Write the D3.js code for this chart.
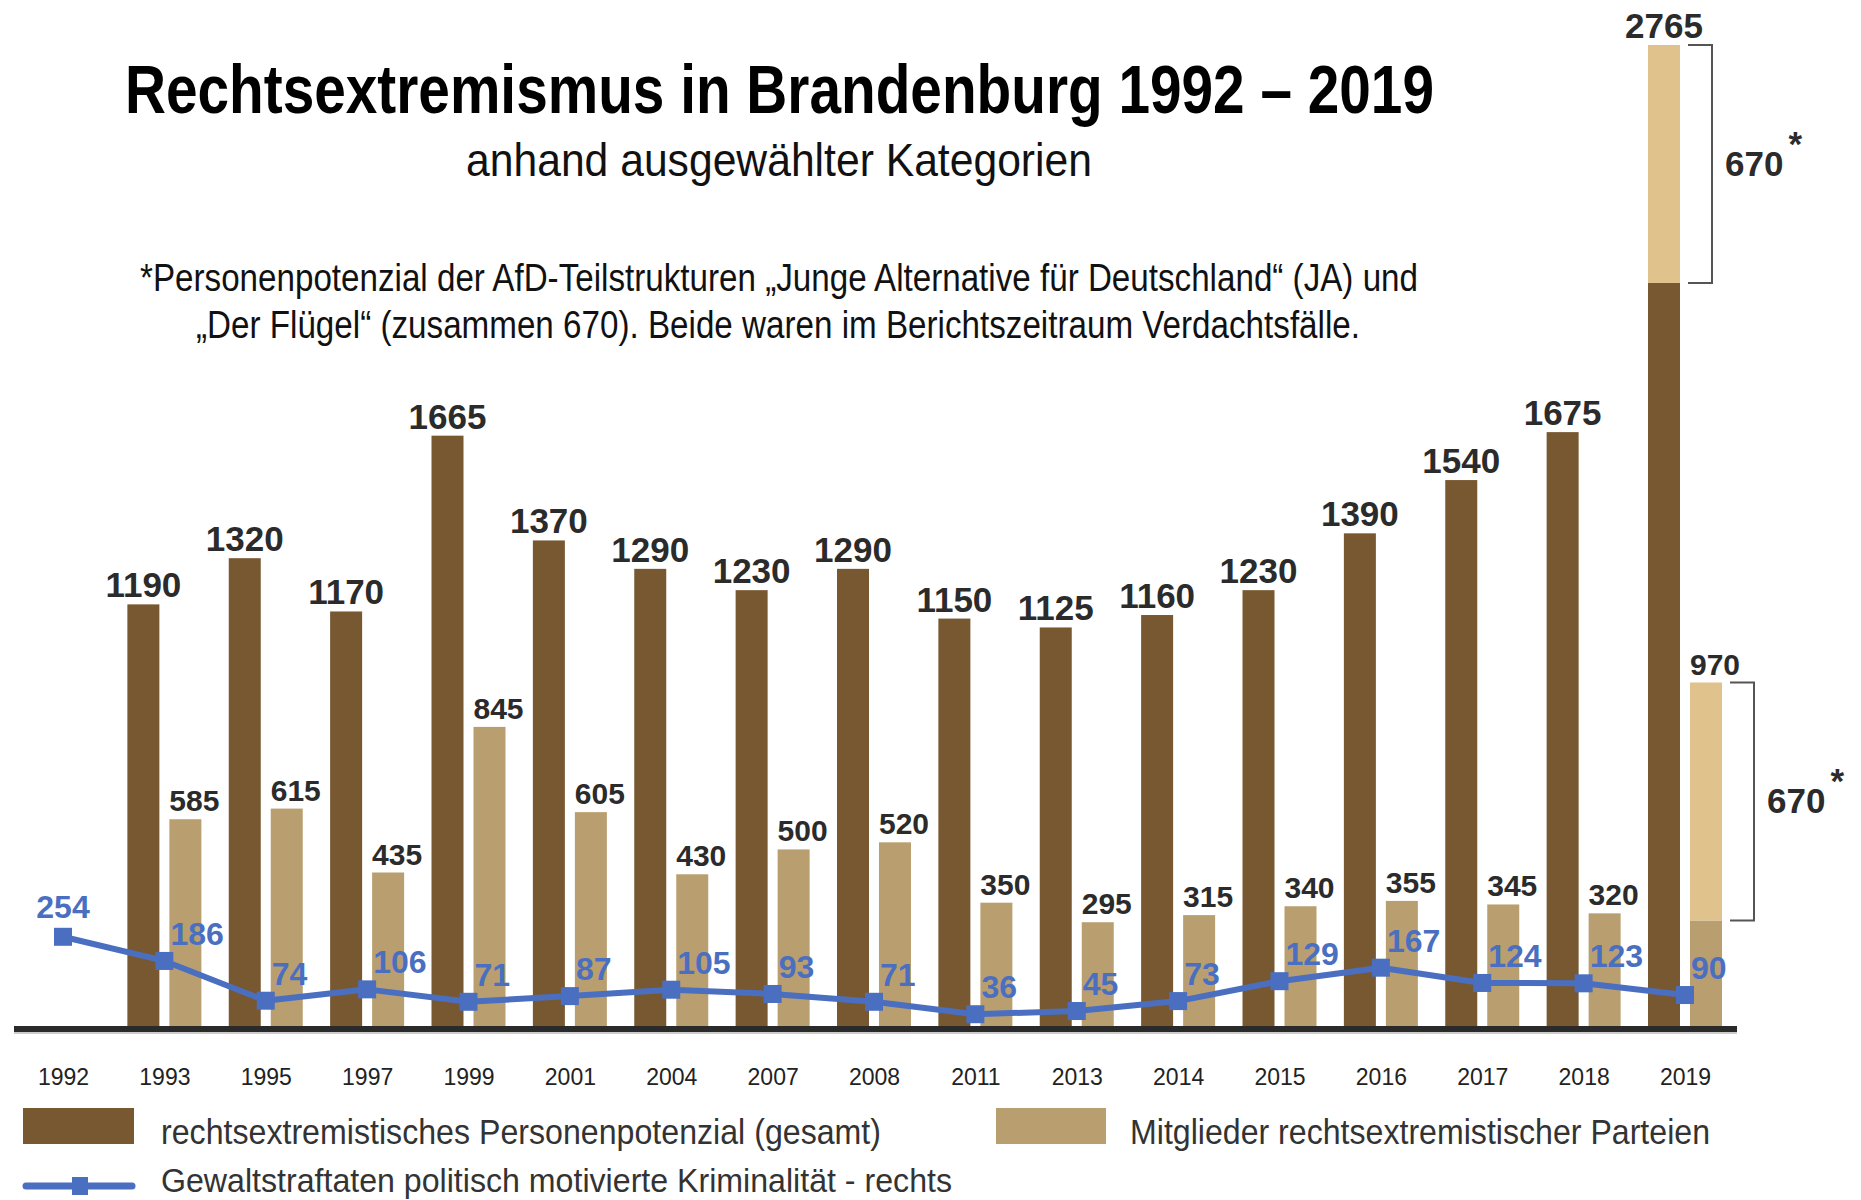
<!DOCTYPE html>
<html>
<head>
<meta charset="utf-8">
<style type="text/css">
    body { margin: 0; background: #fff; }
    text { font-family: "Liberation Sans", Arial, sans-serif; }
    .val { font-weight: bold; fill: #2b2b2b; }
    .blue { font-weight: bold; fill: #4a6fc1; }
    .year { fill: #222; font-size: 23px; }
    .leg { fill: #333; font-size: 35px; }
</style>
</head>
<body>
<svg id="chart"></svg>
<script src="https://d3js.org/d3.v7.min.js"></script>
<script type="text/javascript">
// Werte aus der Grafik
var years    = ["1992","1993","1995","1997","1999","2001","2004","2007","2008","2011","2013","2014","2015","2016","2017","2018","2019"];
var gesamt   = [null,1190,1320,1170,1665,1370,1290,1230,1290,1150,1125,1160,1230,1390,1540,1675,2765];
var parteien = [null,585,615,435,845,605,430,500,520,350,295,315,340,355,345,320,970];
var gewalt   = [254,186,74,106,71,87,105,93,71,36,45,73,129,167,124,123,90];
var afd = 670; // JA + Flügel, nur 2019

var W = 1861, H = 1200;
var brown = "#785831", beige = "#b99f6f", light = "#dfc28c", blue = "#4a6fc1";

var svg = d3.select("#chart").attr("width", W).attr("height", H);

var x = d3.scalePoint().domain(years).range([63, 1685]);
var y = d3.scaleLinear().domain([0, 2765]).range([1027, 45]);

// Titel
function fitText(t, len) {
    return t.attr("textLength", len).attr("lengthAdjust", "spacingAndGlyphs");
}
fitText(svg.append("text").attr("x", 125).attr("y", 113)
    .style("font-size", "69px").style("font-weight", "bold").attr("fill", "#000")
    .text("Rechtsextremismus in Brandenburg 1992 \u2013 2019"), 1309);
fitText(svg.append("text").attr("x", 466).attr("y", 176)
    .style("font-size", "46px").attr("fill", "#111")
    .text("anhand ausgew\u00e4hlter Kategorien"), 626);
fitText(svg.append("text").attr("x", 140).attr("y", 291)
    .style("font-size", "38px").attr("fill", "#111")
    .text("*Personenpotenzial der AfD-Teilstrukturen \u201eJunge Alternative f\u00fcr Deutschland\u201c (JA) und"), 1278);
fitText(svg.append("text").attr("x", 196).attr("y", 338)
    .style("font-size", "38px").attr("fill", "#111")
    .text("\u201eDer Fl\u00fcgel\u201c (zusammen 670). Beide waren im Berichtszeitraum Verdachtsf\u00e4lle."), 1164);

var rows = years.map(function(yr, i) {
    return { year: yr, g: gesamt[i], p: parteien[i], v: gewalt[i], last: i === years.length - 1 };
});
var withBars = rows.filter(function(d) { return d.g !== null; });

// Balken gesamt
svg.append("g").selectAll("rect").data(withBars).enter().append("rect")
    .attr("x", function(d) { return x(d.year) - 37; })
    .attr("width", 32)
    .attr("y", function(d) { return y(d.last ? d.g - afd : d.g); })
    .attr("height", function(d) { return y(0) - y(d.last ? d.g - afd : d.g); })
    .attr("fill", brown);

// Balken Parteien
svg.append("g").selectAll("rect").data(withBars).enter().append("rect")
    .attr("x", function(d) { return x(d.year) + 5; })
    .attr("width", 32)
    .attr("y", function(d) { return y(d.last ? d.p - afd : d.p); })
    .attr("height", function(d) { return y(0) - y(d.last ? d.p - afd : d.p); })
    .attr("fill", beige);

// AfD-Anteil 2019 oben drauf
var last = rows[rows.length - 1];
[{ off: -37, top: last.g }, { off: 5, top: last.p }].forEach(function(s) {
    svg.append("rect")
        .attr("x", x(last.year) + s.off).attr("width", 32)
        .attr("y", y(s.top)).attr("height", y(s.top - afd) - y(s.top))
        .attr("fill", light);
    var bx = x(last.year) + s.off + 40;
    svg.append("path")
        .attr("d", "M" + bx + "," + y(s.top) + "H" + (bx + 24) + "V" + y(s.top - afd) + "H" + bx)
        .attr("fill", "none").attr("stroke", "#555").attr("stroke-width", 2);
    var lab = svg.append("text").attr("class", "val")
        .attr("x", bx + 37).attr("y", (y(s.top) + y(s.top - afd)) / 2 + 12)
        .style("font-size", "35px").text(afd);
    lab.append("tspan").attr("dx", 5).attr("dy", -20).text("*");
});

// Werte-Beschriftung
svg.append("g").selectAll("text").data(withBars).enter().append("text")
    .attr("class", "val").style("font-size", "35px").attr("text-anchor", "middle")
    .attr("x", function(d) { return x(d.year) - 21; })
    .attr("y", function(d) { return y(d.g) - 7; })
    .text(function(d) { return d.g; });
svg.append("g").selectAll("text").data(withBars).enter().append("text")
    .attr("class", "val").style("font-size", "30px").attr("text-anchor", "middle")
    .attr("x", function(d) { return x(d.year) + 30; })
    .attr("y", function(d) { return y(d.p) - 8; })
    .text(function(d) { return d.p; });

// Achse
svg.append("line").attr("x1", 14).attr("x2", 1737).attr("y1", 1029).attr("y2", 1029)
    .attr("stroke", "#2a2a2a").attr("stroke-width", 6);
svg.append("line").attr("x1", 14).attr("x2", 1737).attr("y1", 1033).attr("y2", 1033)
    .attr("stroke", "#bbb").attr("stroke-width", 1.5);

var xAxis = d3.axisBottom(x).tickSize(0).tickPadding(0);
var ax = svg.append("g").attr("transform", "translate(0,1069)").call(xAxis);
ax.select(".domain").remove();
ax.selectAll("text").attr("class", "year").attr("fill", "#222").attr("font-size", null)
    .attr("font-family", null);

// Linie Gewaltstraftaten
var line = d3.line().x(function(d) { return x(d.year); }).y(function(d) { return y(d.v); });
svg.append("path").datum(rows).attr("d", line)
    .attr("fill", "none").attr("stroke", blue).attr("stroke-width", 6).attr("stroke-linejoin", "round");
svg.append("g").selectAll("rect").data(rows).enter().append("rect")
    .attr("x", function(d) { return x(d.year) - 9; })
    .attr("y", function(d) { return y(d.v) - 9; })
    .attr("width", 18).attr("height", 18).attr("fill", blue);
svg.append("g").selectAll("text").data(rows).enter().append("text")
    .attr("class", "blue").style("font-size", "32px")
    .attr("text-anchor", function(d, i) { return i === 0 ? "middle" : "start"; })
    .attr("x", function(d, i) { return i === 0 ? x(d.year) : x(d.year) + 6; })
    .attr("y", function(d, i) { return y(d.v) - (i === 0 ? 19 : 16); })
    .text(function(d) { return d.v; });

// Legende
svg.append("rect").attr("x", 23).attr("y", 1108).attr("width", 111).attr("height", 36).attr("fill", brown);
fitText(svg.append("text").attr("class", "leg").attr("x", 161).attr("y", 1144)
    .text("rechtsextremistisches Personenpotenzial (gesamt)"), 720);
svg.append("rect").attr("x", 996).attr("y", 1108).attr("width", 110).attr("height", 36).attr("fill", beige);
fitText(svg.append("text").attr("class", "leg").attr("x", 1130).attr("y", 1144)
    .text("Mitglieder rechtsextremistischer Parteien"), 580);
svg.append("line").attr("x1", 26).attr("x2", 132).attr("y1", 1186).attr("y2", 1186)
    .attr("stroke", blue).attr("stroke-width", 7).attr("stroke-linecap", "round");
svg.append("rect").attr("x", 72).attr("y", 1177).attr("width", 16).attr("height", 18).attr("fill", blue);
fitText(svg.append("text").attr("class", "leg").attr("x", 161).attr("y", 1192)
    .style("font-size", "34px")
    .text("Gewaltstraftaten politisch motivierte Kriminalit\u00e4t - rechts"), 791);
</script>
</body>
</html>
